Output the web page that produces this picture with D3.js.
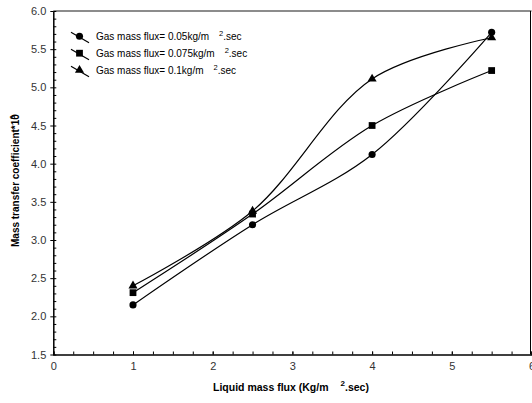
<!DOCTYPE html>
<html>
<head>
<meta charset="utf-8">
<script src="https://cdn.jsdelivr.net/npm/d3@7"></script>
<style>
  body { margin: 0; background: #fff; }
  svg { font-family: "Liberation Sans", Arial, sans-serif; }
</style>
</head>
<body>
<svg id="chart" width="532" height="403"></svg>
<script>
// liquid mass flux values (x)
const liquidFlux = [1, 2.5, 4, 5.5];
// mass transfer coefficient *10^6 for each gas flux
const gas005 = [2.15, 3.2, 4.12, 5.72];
const gas0075 = [2.31, 3.34, 4.5, 5.22];
const gas01 = [2.4, 3.38, 5.11, 5.65];
const seriesNames = [
  "Gas mass flux= 0.05kg/m",
  "Gas mass flux= 0.075kg/m",
  "Gas mass flux= 0.1kg/m",
];
const xTicks = [0, 1, 2, 3, 4, 5, 6];
const yTicks = [1.5, 2, 2.5, 3, 3.5, 4, 4.5, 5, 5.5, 6];

const svg = d3.select("#chart");
const mLeft = 53.3, mRight = 531.5, mTop = 11, mBottom = 354.5;

const x = d3.scaleLinear().domain([0, 6]).range([mLeft, mRight]);
const y = d3.scaleLinear().domain([1.5, 6]).range([mBottom, mTop]);

const series = [
  { name: seriesNames[0], values: gas005, shape: d3.symbolCircle, size: 40 },
  { name: seriesNames[1], values: gas0075, shape: d3.symbolSquare, size: 46 },
  { name: seriesNames[2], values: gas01, shape: d3.symbolTriangle, size: 36 },
];

// frame: top grey, right black
svg.append("line")
  .attr("x1", mLeft).attr("x2", mRight)
  .attr("y1", mTop).attr("y2", mTop)
  .attr("stroke", "#666").attr("stroke-width", 1.5);
svg.append("line")
  .attr("x1", mRight - 1).attr("x2", mRight - 1)
  .attr("y1", mTop).attr("y2", mBottom)
  .attr("stroke", "#000").attr("stroke-width", 1);

// minor ticks
const xMinor = d3.range(0, 6.001, 0.25);
const yMinor = d3.range(1.5, 6.001, 0.1);

svg.append("g")
  .attr("transform", `translate(0,${mBottom})`)
  .call(d3.axisBottom(x).tickValues(xMinor).tickSize(-3).tickFormat(""))
  .call((g) => g.select(".domain").remove());

svg.append("g")
  .attr("transform", `translate(${mLeft},0)`)
  .call(d3.axisLeft(y).tickValues(yMinor).tickSize(-3).tickFormat(""))
  .call((g) => g.select(".domain").remove());

// major axes
const xAxis = svg.append("g")
  .attr("transform", `translate(0,${mBottom})`)
  .call(d3.axisBottom(x).tickValues(xTicks).tickSize(-3).tickPadding(8).tickFormat(d3.format("d")));
const yAxis = svg.append("g")
  .attr("transform", `translate(${mLeft},0)`)
  .call(d3.axisLeft(y).tickValues(yTicks).tickSize(3).tickSizeOuter(0).tickPadding(4).tickFormat(d3.format(".1f")));

[xAxis, yAxis].forEach((g) => {
  g.select(".domain").attr("stroke", "#000").attr("stroke-width", 1.5);
  g.selectAll("text").attr("font-size", 11).attr("fill", "#333")
    .attr("font-family", "Liberation Sans, Arial, sans-serif");
});

// curves
const line = d3.line()
  .x((d, i) => x(liquidFlux[i]))
  .y((d) => y(d))
  .curve(d3.curveCatmullRom.alpha(0.5));

series.forEach((s) => {
  svg.append("path")
    .attr("d", line(s.values))
    .attr("fill", "none")
    .attr("stroke", "#000")
    .attr("stroke-width", 1.2);
  svg.append("g")
    .selectAll("path")
    .data(s.values)
    .join("path")
    .attr("transform", (d, i) => `translate(${x(liquidFlux[i])},${y(d)})`)
    .attr("d", d3.symbol().type(s.shape).size(s.size))
    .attr("fill", "#000");
});

// legend
const legend = svg.append("g");
series.forEach((s, i) => {
  const cy = 35.7 + i * 17;
  const g = legend.append("g").attr("transform", `translate(0,${cy})`);
  g.append("line")
    .attr("x1", 71).attr("y1", -3.5)
    .attr("x2", 89).attr("y2", 7)
    .attr("stroke", "#000").attr("stroke-width", 1.2);
  g.append("path")
    .attr("transform", "translate(79.5,0.5)")
    .attr("d", d3.symbol().type(s.shape).size(s.size))
    .attr("fill", "#000");
  const t = g.append("text")
    .attr("x", 96).attr("y", 4.5)
    .attr("font-size", 10)
    .attr("fill", "#000")
    .text(s.name);
  t.append("tspan").attr("dx", 10).attr("dy", -4).attr("font-size", 7.5).text("2");
  t.append("tspan").attr("dy", 4).text(".sec");
});

// axis titles
const xt = svg.append("text")
  .attr("x", 213).attr("y", 391)
  .attr("font-size", 10.5).attr("font-weight", "bold")
  .text("Liquid mass flux (Kg/m");
xt.append("tspan").attr("dx", 12).attr("dy", -5).attr("font-size", 8).text("2");
xt.append("tspan").attr("dy", 5).text(".sec)");

const yt = svg.append("text")
  .attr("transform", "translate(19,247) rotate(-90)")
  .attr("font-size", 10).attr("font-weight", "bold")
  .text("Mass transfer coefficient*10");
yt.append("tspan").attr("dx", -5).attr("dy", -4).attr("font-size", 7).text("6");
</script>
</body>
</html>
